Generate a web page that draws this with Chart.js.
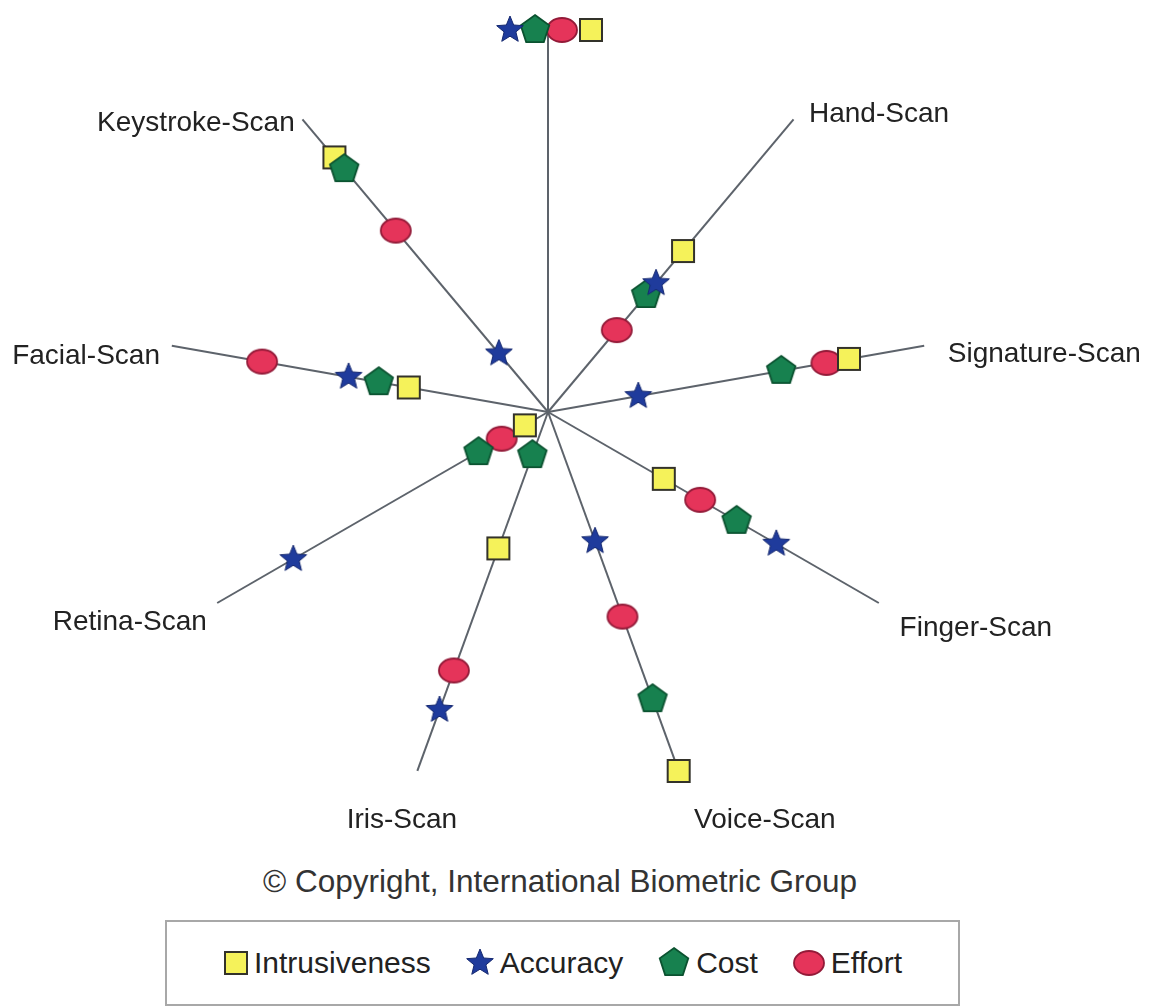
<!DOCTYPE html>
<html>
<head>
<meta charset="utf-8">
<script src="https://cdn.jsdelivr.net/npm/chart.js@4.4.1/dist/chart.umd.min.js"></script>
<style>
  body { margin: 0; background: #fff; font-family: "Liberation Sans", Arial, sans-serif; }
  #wrap { position: relative; width: 1153px; height: 860px; }
  #copy { position: absolute; top: 863px; left: 0; width: 1120px; text-align: center; font-size: 31.5px; color: #333; }
  #legend { position: absolute; left: 165px; top: 920px; width: 791px; height: 82px; border: 2px solid #a8a8a8;
            display: flex; align-items: center; justify-content: center; }
  .item { display: flex; align-items: center; margin: 0 17px; font-size: 30px; color: #222; }
  .item canvas { margin-right: 5px; }
</style>
</head>
<body>
<div id="wrap"><canvas id="zephyr"></canvas></div>
<div id="copy">© Copyright, International Biometric Group</div>
<div id="legend"></div>
<script>
// spokes clockwise from the top (top label is cut off in the source)
const labels = ["", "Hand-Scan", "Signature-Scan", "Finger-Scan", "Voice-Scan", "Iris-Scan", "Retina-Scan", "Facial-Scan", "Keystroke-Scan"];
const seriesNames = ["Intrusiveness", "Accuracy", "Cost", "Effort"];
const intrusiveness = [10, 5.5, 8.0, 3.5, 10, 3.8, 0.7, 3.7, 8.7];
const accuracy = [10, 4.4, 2.4, 6.9, 3.6, 8.3, 7.7, 5.3, 2.0];
const cost = [10, 4.0, 6.2, 5.7, 8.0, 1.2, 2.1, 4.5, 8.3];
const effort = [10, 2.8, 7.4, 4.6, 5.7, 7.2, 1.4, 7.6, 6.2];

function makeMarker(kind) {
  const c = document.createElement("canvas");
  const size = { square: [26, 26], star: [30, 30], pentagon: [34, 34], ellipse: [34, 28] }[kind];
  c.width = size[0]; c.height = size[1];
  const ctx = c.getContext("2d");
  ctx.translate(size[0] / 2, size[1] / 2);
  ctx.beginPath();
  if (kind === "square") {
    ctx.rect(-11, -11, 22, 22);
    ctx.fillStyle = "#f5f25a"; ctx.strokeStyle = "#33322a"; ctx.lineWidth = 2;
  } else if (kind === "star") {
    for (let k = 0; k < 10; k++) {
      const r = k % 2 ? 6.2 : 14;
      const a = -Math.PI / 2 + k * Math.PI / 5;
      ctx.lineTo(r * Math.cos(a), r * Math.sin(a));
    }
    ctx.closePath();
    ctx.fillStyle = "#1f3b9c"; ctx.strokeStyle = "#15286f"; ctx.lineWidth = 1;
  } else if (kind === "pentagon") {
    for (let k = 0; k < 5; k++) {
      const a = -Math.PI / 2 + k * 2 * Math.PI / 5;
      ctx.lineTo(15 * Math.cos(a), 15 * Math.sin(a));
    }
    ctx.closePath();
    ctx.fillStyle = "#17814f"; ctx.strokeStyle = "#0b5230"; ctx.lineWidth = 1.8;
  } else {
    ctx.ellipse(0, 0, 15, 12, 0, 0, Math.PI * 2);
    ctx.fillStyle = "#e5345a"; ctx.strokeStyle = "#931a38"; ctx.lineWidth = 1.8;
  }
  ctx.fill();
  ctx.stroke();
  return c;
}

const markerKinds = ["square", "star", "pentagon", "ellipse"];
const drawOrder = [2, 0, 1, 3]; // lower = drawn on top
const values = [intrusiveness, accuracy, cost, effort];

// the four markers on the top spoke sit side by side instead of on top of each other
const topSpread = {
  id: "topSpread",
  afterDatasetsUpdate(chart) {
    const shift = [43, -38, -13, 14];
    chart.data.datasets.forEach((ds, i) => {
      const pt = chart.getDatasetMeta(i).data[0];
      if (pt) pt.x += shift[i];
    });
  }
};

const spokeLabels = {
  id: "spokeLabels",
  afterDraw(chart) {
    const s = chart.scales.r, ctx = chart.ctx;
    ctx.save();
    ctx.font = '28px "Liberation Sans", Arial, sans-serif';
    ctx.fillStyle = "#222";
    ctx.textBaseline = "middle";
    labels.forEach((txt, i) => {
      if (!txt) return;
      const end = s.getPointPosition(i, s.drawingArea);
      const dx = (end.x - s.xCenter) / s.drawingArea;
      const dy = (end.y - s.yCenter) / s.drawingArea;
      const align = dx > 0.2 ? "left" : (dx < -0.5 ? "right" : "center");
      const pad = dy > 0.9 ? 45 : (align === "right" ? 12 : 24);
      const p = s.getPointPosition(i, s.drawingArea + pad);
      ctx.textAlign = align;
      ctx.fillText(txt, p.x, p.y + (dy > 0.9 ? 7 : 13));
    });
    ctx.restore();
  }
};

new Chart(document.getElementById("zephyr"), {
  type: "radar",
  data: {
    labels: labels,
    datasets: seriesNames.map((name, i) => ({
      label: name,
      data: values[i],
      order: drawOrder[i],
      showLine: false,
      fill: false,
      borderWidth: 0,
      borderColor: "transparent",
      backgroundColor: "transparent",
      pointStyle: makeMarker(markerKinds[i]),
      pointRadius: 13,
      pointHoverRadius: 13
    }))
  },
  options: {
    responsive: true,
    maintainAspectRatio: false,
    animation: false,
    layout: { padding: { left: 166, right: 223, top: 30, bottom: 66 } },
    plugins: { legend: { display: false }, tooltip: { enabled: false } },
    scales: {
      r: {
        min: 0,
        max: 10,
        ticks: { display: false },
        grid: { display: false },
        angleLines: { color: "#5d636b", lineWidth: 2 },
        pointLabels: { display: false }
      }
    }
  },
  plugins: [topSpread, spokeLabels]
});

const legend = document.getElementById("legend");
seriesNames.forEach((name, i) => {
  const item = document.createElement("div");
  item.className = "item";
  item.appendChild(makeMarker(markerKinds[i]));
  item.appendChild(document.createTextNode(name));
  legend.appendChild(item);
});
</script>
</body>
</html>
